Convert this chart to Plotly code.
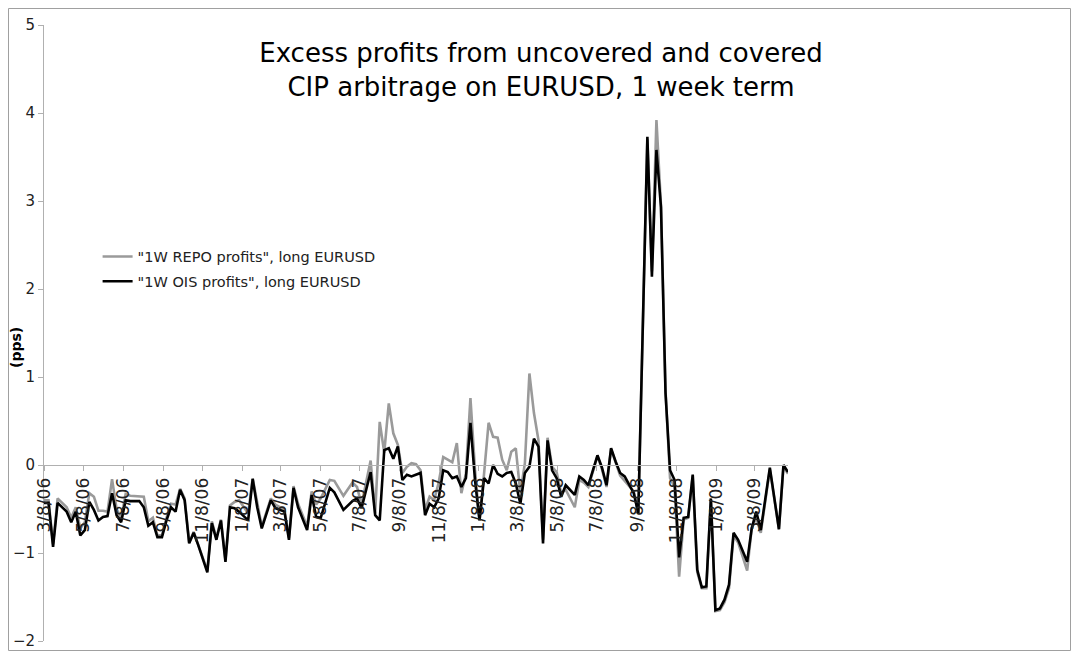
import plotly.graph_objects as go
import pandas as pd

# Week numbers counted from the first observation (2006-03-08)
start_date = "2006-03-08"
week_no = [0, 1, 2, 3, 5, 6, 7, 8, 9, 10, 11, 12, 13, 14, 15, 16, 17, 18, 19, 21,
           22, 23, 24, 25, 26, 27, 28, 29, 30, 31, 32, 33, 34, 36, 37, 38, 39, 40, 41, 42,
           43, 45, 46, 47, 48, 50, 51, 52, 53, 54, 55, 56, 58, 59, 60, 61, 63, 64, 66, 68,
           69, 70, 72, 73, 74, 75, 76, 77, 78, 79, 80, 81, 82, 83, 84, 85, 86, 87, 88, 89,
           90, 91, 92, 93, 94, 95, 96, 97, 98, 99, 100, 101, 102, 103, 104, 105, 106, 107, 108, 109,
           110, 111, 112, 113, 114, 115, 117, 118, 119, 120, 122, 123, 124, 125, 126, 127, 128, 130, 131, 133,
           134, 135, 136, 137, 138, 139, 140, 141, 142, 143, 144, 145, 146, 147, 148, 149, 150, 151, 152, 153,
           155, 156, 157, 158, 160, 162, 163, 164]

ois_profits = [-0.43, -0.43, -0.93, -0.43, -0.53, -0.65, -0.53, -0.80, -0.74, -0.42,
               -0.51, -0.63, -0.59, -0.58, -0.32, -0.57, -0.65, -0.40, -0.41, -0.41,
               -0.48, -0.69, -0.65, -0.82, -0.82, -0.63, -0.48, -0.53, -0.28, -0.40,
               -0.89, -0.77, -0.91, -1.22, -0.66, -0.85, -0.63, -1.10, -0.48, -0.49,
               -0.53, -0.63, -0.16, -0.48, -0.72, -0.40, -0.49, -0.51, -0.53, -0.85,
               -0.26, -0.48, -0.74, -0.34, -0.59, -0.60, -0.26, -0.31, -0.51, -0.41,
               -0.38, -0.49, -0.08, -0.57, -0.63, 0.17, 0.19, 0.07, 0.21, -0.17,
               -0.11, -0.13, -0.11, -0.09, -0.57, -0.44, -0.48, -0.38, -0.06, -0.08,
               -0.15, -0.13, -0.25, -0.15, 0.48, -0.17, -0.63, -0.15, -0.21, 0.00,
               -0.10, -0.13, -0.09, -0.08, -0.21, -0.44, -0.09, -0.02, 0.30, 0.21,
               -0.89, 0.28, -0.06, -0.15, -0.36, -0.23, -0.34, -0.13, -0.17, -0.23,
               0.11, -0.03, -0.23, 0.19, 0.04, -0.09, -0.13, -0.32, -0.55, 3.73,
               2.14, 3.58, 2.93, 0.82, -0.06, -0.17, -1.05, -0.60, -0.59, -0.11,
               -1.19, -1.39, -1.38, -0.38, -1.65, -1.63, -1.53, -1.36, -0.77, -0.85,
               -1.10, -0.72, -0.53, -0.74, -0.03, -0.73, 0.00, -0.08]

repo_profits = [-0.40, -0.40, -0.90, -0.38, -0.48, -0.60, -0.48, -0.72, -0.65, -0.32,
                -0.36, -0.52, -0.52, -0.53, -0.16, -0.50, -0.60, -0.33, -0.35, -0.36,
                -0.36, -0.64, -0.60, -0.80, -0.80, -0.60, -0.44, -0.45, -0.27, -0.38,
                -0.88, -0.76, -0.90, -1.20, -0.64, -0.83, -0.62, -1.08, -0.46, -0.42,
                -0.40, -0.55, -0.15, -0.45, -0.70, -0.38, -0.45, -0.48, -0.50, -0.83,
                -0.24, -0.44, -0.70, -0.30, -0.45, -0.38, -0.17, -0.18, -0.35, -0.20,
                -0.25, -0.45, 0.05, -0.55, 0.49, 0.14, 0.70, 0.36, 0.23, -0.09,
                -0.02, 0.02, 0.01, -0.06, -0.51, -0.36, -0.40, -0.20, 0.09, 0.06,
                0.03, 0.25, -0.32, -0.10, 0.76, -0.05, -0.63, -0.10, 0.48, 0.32,
                0.31, 0.06, -0.06, 0.15, 0.19, -0.32, 0.02, 1.04, 0.59, 0.28,
                -0.85, 0.31, -0.02, -0.08, -0.32, -0.28, -0.48, -0.17, -0.20, -0.25,
                0.10, -0.05, -0.25, 0.18, 0.02, -0.12, -0.18, -0.30, -0.55, 3.70,
                2.20, 3.92, 2.95, 0.85, -0.15, -0.25, -1.27, -0.62, -0.60, -0.12,
                -1.22, -1.40, -1.40, -0.40, -1.66, -1.65, -1.56, -1.40, -0.80, -0.88,
                -1.20, -0.72, -0.60, -0.77, -0.05, -0.73, -0.02, -0.10]

tick_dates = ["2006-03-08", "2006-05-08", "2006-07-08", "2006-09-08", "2006-11-08",
              "2007-01-08", "2007-03-08", "2007-05-08", "2007-07-08", "2007-09-08",
              "2007-11-08", "2008-01-08", "2008-03-08", "2008-05-08", "2008-07-08",
              "2008-09-08", "2008-11-08", "2009-01-08", "2009-03-08"]
tick_labels = ["3/8/06", "5/8/06", "7/8/06", "9/8/06", "11/8/06",
               "1/8/07", "3/8/07", "5/8/07", "7/8/07", "9/8/07",
               "11/8/07", "1/8/08", "3/8/08", "5/8/08", "7/8/08",
               "9/8/08", "11/8/08", "1/8/09", "3/8/09"]

assert len(week_no) == len(ois_profits) == len(repo_profits)

t0 = pd.Timestamp(start_date)
dates = [t0 + pd.Timedelta(weeks=w) for w in week_no]

FONT = "DejaVu Sans"
# The page body keeps the browser's default 8px margin, so the figure is sized to fit inside it.
W, H = 1063, 643
L, T, R, B = 36, 17, 283, 10
PW, PH = W - L - R, H - T - B  # plot area size


def px_x(v):  # viewport x -> paper x
    return (v - 8 - L) / PW


def px_y(v):  # viewport y -> paper y
    return 1 - (v - 8 - T) / PH


fig = go.Figure()
fig.add_trace(go.Scatter(x=dates, y=repo_profits, mode="lines",
                         name='"1W REPO profits", long EURUSD', legendgroup="a",
                         line=dict(color="#9a9a9a", width=2.6)))
fig.add_trace(go.Scatter(x=dates, y=ois_profits, mode="lines",
                         name='"1W OIS profits", long EURUSD', legendgroup="b",
                         line=dict(color="#000000", width=2.6)))

fig.update_layout(
    width=W, height=H,
    margin=dict(l=L, r=R, t=T, b=B, autoexpand=False),
    paper_bgcolor="white", plot_bgcolor="white",
    font=dict(family=FONT, color="#222222"),
    title=dict(text="Excess profits from uncovered and covered<br>CIP arbitrage on EURUSD, 1 week term",
               x=533 / W, xanchor="center", xref="container",
               y=1 - 54 / H, yanchor="middle", yref="container",
               font=dict(family=FONT, size=26, color="#000000")),
    legend=dict(x=px_x(97.6), y=px_y(240.5), xanchor="left", yanchor="top",
                bgcolor="rgba(0,0,0,0)", font=dict(family=FONT, size=14.5, color="#222222"),
                tracegroupgap=3),
    showlegend=True,
)

fig.update_xaxes(
    type="date", automargin=False,
    range=[dates[0], dates[-1]],
    tickmode="array", tickvals=tick_dates, ticktext=tick_labels,
    tickangle=-90, ticks="outside", ticklen=5, tickcolor="#b0b0b0",
    tickfont=dict(family=FONT, size=17, color="#222222"),
    showline=True, linecolor="#b0b0b0", linewidth=1,
    showgrid=False, zeroline=False,
    anchor="free", position=2 / 7,
)
fig.update_yaxes(
    range=[-2, 5], dtick=1, tick0=0, automargin=False,
    ticks="outside", ticklen=5, tickcolor="#b0b0b0",
    tickfont=dict(family=FONT, size=15, color="#222222"),
    showline=True, linecolor="#b0b0b0", linewidth=1,
    showgrid=False, zeroline=False,
)

fig.add_annotation(text="<b>(pps)</b>", xref="paper", yref="paper",
                   x=px_x(16), y=px_y(348), xanchor="center", yanchor="middle",
                   textangle=-90, showarrow=False,
                   font=dict(family=FONT, size=14, color="#000000"))

fig.add_shape(type="rect", xref="paper", yref="paper",
              x0=(0.5 - L) / PW, x1=(W - 0.5 - L) / PW,
              y0=1 - (H - 0.5 - T) / PH, y1=1 + (T - 0.5) / PH,
              line=dict(color="#a0a0a0", width=1), fillcolor="rgba(0,0,0,0)", layer="below")

fig.write_html("out.html")
